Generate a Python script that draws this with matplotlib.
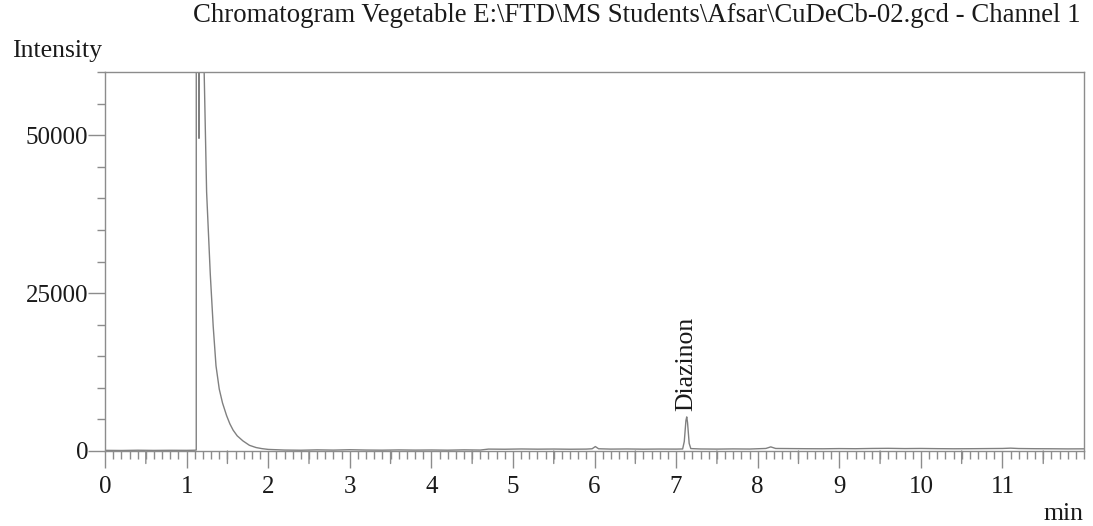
import matplotlib
matplotlib.use("Agg")
import matplotlib.pyplot as plt
from matplotlib.ticker import MultipleLocator

plt.rcParams['font.family'] = ['Liberation Serif', 'DejaVu Serif']

# retention time (min) and detector intensity
time_min = [0.0, 0.2, 0.4, 0.6, 0.8, 1.0, 1.1, 1.118, 1.122, 1.126, 1.15, 1.153, 1.156,
            1.21, 1.215, 1.245, 1.29, 1.326, 1.36, 1.40, 1.44, 1.49, 1.53, 1.57, 1.62,
            1.69, 1.77, 1.85, 1.92, 2.0, 2.2, 2.4, 2.6, 2.8, 3.0, 3.2, 3.4, 3.6, 3.8,
            4.0, 4.2, 4.4, 4.6, 4.7, 4.9, 5.1, 5.3, 5.5, 5.7, 5.9, 5.97, 6.01, 6.05,
            6.2, 6.4, 6.6, 6.8, 7.0, 7.08, 7.10, 7.12, 7.13, 7.14, 7.16, 7.18, 7.3,
            7.5, 7.7, 7.9, 8.1, 8.16, 8.22, 8.4, 8.6, 8.8, 9.0, 9.2, 9.4, 9.6, 9.8,
            10.0, 10.2, 10.4, 10.6, 10.8, 11.0, 11.1, 11.2, 11.4, 11.6, 11.8, 12.0]
intensity = [100, 80, 120, 90, 110, 100, 120, 150, 900000, 300000, 49500, 49500, 300000,
             70000, 60000, 41000, 28000, 19700, 13500, 9800, 7600, 5600, 4300, 3300, 2400,
             1600, 900, 550, 380, 250, 150, 120, 180, 140, 200, 150, 130, 170, 140,
             160, 130, 180, 150, 300, 280, 320, 290, 310, 280, 300, 350, 700, 350,
             300, 320, 290, 310, 300, 320, 1500, 4800, 5400, 4500, 1200, 380, 320,
             300, 330, 310, 400, 650, 400, 380, 360, 350, 380, 360, 400, 420, 380,
             400, 370, 350, 360, 380, 400, 450, 390, 360, 350, 330, 340]

peak_label = "Diazinon"
peak_time = 7.13
peak_height = 5400

title = r"Chromatogram Vegetable E:\FTD\MS Students\Afsar\CuDeCb-02.gcd - Channel 1"

frame_col = "#8c8c8c"
line_col = "#808080"
text_col = "#1a1a1a"

fig = plt.figure(figsize=(10.93, 5.26), dpi=100)
ax = fig.add_axes([0.0961, 0.1426, 0.8957, 0.7205])

ax.plot(time_min, intensity, color=line_col, lw=1.0)

ax.set_xlim(0, 12)
ax.set_ylim(0, 60000)

for s in ax.spines.values():
    s.set_color(frame_col)
    s.set_linewidth(1.0)

ax.xaxis.set_major_locator(MultipleLocator(1))
ax.xaxis.set_minor_locator(MultipleLocator(0.1))
ax.yaxis.set_major_locator(MultipleLocator(25000))
ax.yaxis.set_minor_locator(MultipleLocator(5000))

ax.tick_params(axis='both', which='major', direction='out', length=12, width=1,
               color=frame_col, labelsize=18, labelcolor=text_col)
ax.tick_params(axis='x', which='major', pad=6)
ax.tick_params(axis='y', which='major', pad=0)
ax.tick_params(axis='both', which='minor', direction='out', length=6, width=1,
               color=frame_col)
ax.set_xticks([0, 1, 2, 3, 4, 5, 6, 7, 8, 9, 10, 11])

# medium ticks at the half minutes
for h in [i + 0.5 for i in range(12)]:
    ax.annotate("", xy=(h, 0), xytext=(0, -9), textcoords="offset points",
                arrowprops=dict(arrowstyle="-", color=frame_col, lw=1,
                                shrinkA=0, shrinkB=0), annotation_clip=False)

ax.text(peak_time, peak_height + 1000, peak_label, rotation=90, ha='center', va='bottom',
        fontsize=18.5, color=text_col)

fig.text(0.583, 0.970, title, ha='center', va='center', fontsize=19.3, color=text_col)
fig.text(0.011, 0.903, "Intensity", ha='left', va='center', fontsize=18.5, color=text_col)
fig.text(0.991, 0.022, "min", ha='right', va='center', fontsize=18.5, color=text_col)

fig.savefig("out.png", dpi=100, facecolor="white")
